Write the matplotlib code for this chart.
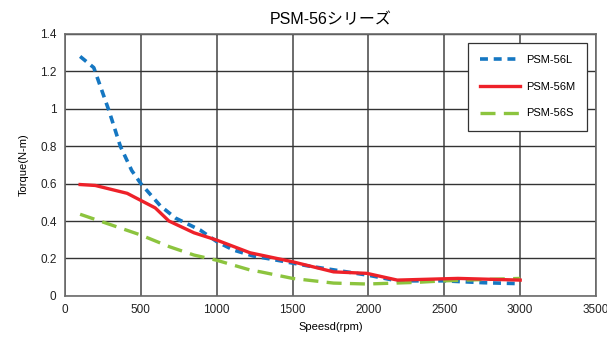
import matplotlib
matplotlib.use("Agg")
import matplotlib.pyplot as plt

plt.rcParams['font.family'] = ['Liberation Sans', 'Noto Sans CJK JP', 'DejaVu Sans']

# Torque vs speed curves
speed_L = [100, 190, 290, 365, 440, 500, 630, 730, 890, 1000, 1110, 1240, 1400, 1600, 1800, 2000, 2190, 2500, 2760, 3000]
torque_L = [1.28, 1.22, 0.99, 0.80, 0.67, 0.60, 0.48, 0.415, 0.352, 0.29, 0.245, 0.213, 0.19, 0.16, 0.135, 0.11, 0.08, 0.08, 0.07, 0.065]

speed_M = [100, 200, 410, 500, 595, 685, 850, 1000, 1220, 1290, 1500, 1770, 1990, 2190, 2500, 2590, 3000]
torque_M = [0.595, 0.59, 0.548, 0.51, 0.47, 0.40, 0.337, 0.298, 0.23, 0.218, 0.182, 0.128, 0.12, 0.084, 0.091, 0.093, 0.084]

speed_S = [100, 500, 690, 850, 1000, 1220, 1290, 1500, 1770, 1990, 2320, 2500, 2760, 3000]
torque_S = [0.436, 0.325, 0.262, 0.218, 0.19, 0.138, 0.128, 0.093, 0.068, 0.063, 0.072, 0.08, 0.087, 0.093]

x_ticks = [0, 500, 1000, 1500, 2000, 2500, 3000, 3500]
y_ticks = [0, 0.2, 0.4, 0.6, 0.8, 1.0, 1.2, 1.4]
y_labels = ["0", "0.2", "0.4", "0.6", "0.8", "1", "1.2", "1.4"]

fig = plt.figure(figsize=(6.07, 3.4), dpi=100)
ax = fig.add_axes([0.107, 0.130, 0.875, 0.770])

ax.plot(speed_L, torque_L, color="#1577c2", lw=2.6, dashes=(2.2, 1.6), label="PSM-56L", zorder=3)
ax.plot(speed_M, torque_M, color="#ee2129", lw=2.4, label="PSM-56M", zorder=4)
ax.plot(speed_S, torque_S, color="#8cc43e", lw=2.4, dashes=(4.5, 2.5), label="PSM-56S", zorder=3)

ax.set_xlim(0, 3500)
ax.set_ylim(0, 1.4)
ax.set_xticks(x_ticks)
ax.set_yticks(y_ticks)
ax.set_yticklabels(y_labels)
ax.tick_params(length=0, labelsize=8.5, colors="#222222", pad=6)

ax.xaxis.grid(True, color="#6b6b6b", lw=1.4)
ax.yaxis.grid(True, color="#333333", lw=1.0)
ax.set_axisbelow(True)
for s in ax.spines.values():
    s.set_color("#6b6b6b")
    s.set_linewidth(1.2)

ax.set_title("PSM-56シリーズ", fontsize=11.5, pad=7)
ax.set_xlabel("Speesd(rpm)", fontsize=8, labelpad=4)
ax.set_ylabel("Torque(N-m)", fontsize=8, labelpad=8)

leg = ax.legend(loc="upper right", bbox_to_anchor=(0.983, 0.966), borderaxespad=0,
                fontsize=8, fancybox=False, framealpha=1, edgecolor="#333333",
                handlelength=3.6, labelspacing=1.5, borderpad=1.1, handletextpad=0.5)
leg.get_frame().set_linewidth(0.9)

fig.savefig("out.png", dpi=100)
